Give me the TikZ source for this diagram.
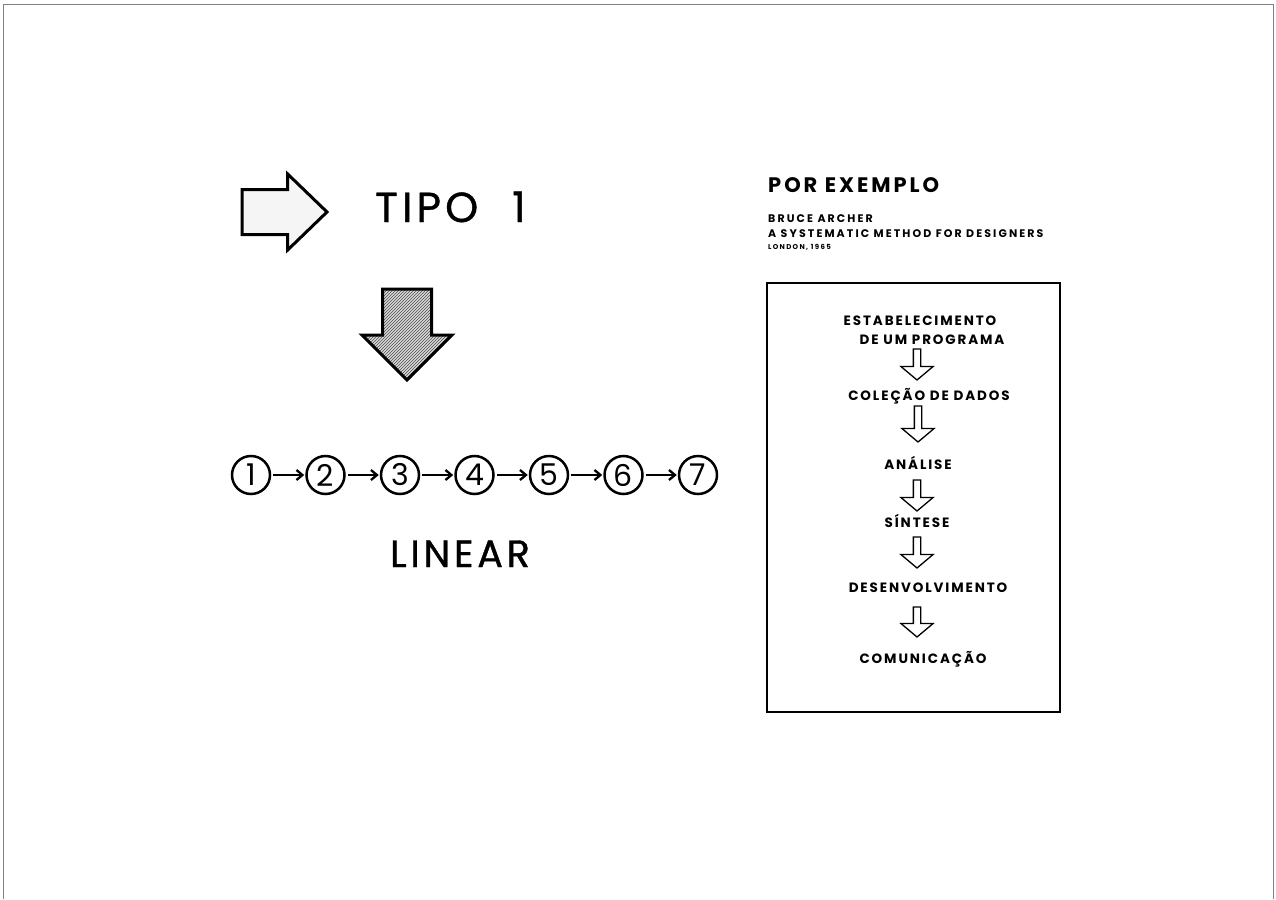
\documentclass[tikz,border=0pt]{standalone}
\usepackage{fontspec}
\setmainfont{Poppins}
\newfontfamily\titlefont[LetterSpace=10,FakeBold=1]{Poppins}
\newfontfamily\handfont[LetterSpace=14]{Poppins}
\newfontfamily\notefont[LetterSpace=19]{Poppins}
\usetikzlibrary{positioning,arrows.meta,shapes.arrows,patterns}

\begin{document}
\begin{tikzpicture}[x=1pt,y=-1pt,
  bigarrow/.style={single arrow, draw, line width=3pt, inner xsep=0pt, outer sep=0pt, anchor=tail},
  steparrow/.style={single arrow, draw, line width=1.3pt, fill=white, inner xsep=0pt, inner ysep=3pt,
    outer sep=0pt, single arrow head extend=12.5, single arrow tip angle=100, rotate=-90, anchor=tail},
  stepnum/.style={circle, draw, line width=2.5pt, minimum size=38pt, inner sep=0pt,
    font=\fontsize{30}{30}\selectfont},
  nextarrow/.style={-{Straight Barb[length=6pt,width=10pt]}, line width=2.3pt, shorten <=2pt, shorten >=1pt},
  boxlabel/.style={font=\handfont\bfseries\fontsize{13.5}{15}\selectfont, inner sep=0pt, anchor=base},
  notelabel/.style={font=\notefont\bfseries\fontsize{11}{12}\selectfont, inner sep=0pt, anchor=base west},
]
  \useasboundingbox (0,0) rectangle (1276,899);
  % page frame
  \draw[gray, line width=1pt] (3,899) -- (3,5) -- (1273,5) -- (1273,899);

  % left half: type 1
  \node[bigarrow, inner ysep=21pt, minimum height=85, single arrow head extend=15.5,
    single arrow tip angle=88, fill=gray!8] (pointer) at (242,212) {};
  \node[font=\titlefont\fontsize{42}{42}\selectfont, inner sep=0pt, anchor=base west] (tipo) at (375,222) {TIPO\hspace{34pt}1};
  \node[bigarrow, rotate=-90, inner ysep=23pt, minimum height=91, single arrow head extend=20.5,
    single arrow tip angle=90, preaction={fill=gray!30}, pattern=north east lines,
    pattern color=black!70] (down) at (407,289) {};

  % chain of steps
  \foreach \i in {1,...,7}
    \node[stepnum] (n\i) at ({251+74.5*(\i-1)},475) {\i};
  \foreach \i [remember=\i as \prev (initially 1)] in {2,...,7}
    \draw[nextarrow] (n\prev) -- (n\i);
  \node[font=\titlefont\fontsize{38}{38}\selectfont, inner sep=0pt, anchor=base] (linear) at (460,567) {LINEAR};

  % right half: example
  \node[font=\handfont\bfseries\fontsize{21}{22}\selectfont, inner sep=0pt, anchor=base west] (exemplo) at (768,192) {POR EXEMPLO};
  \node[notelabel] (author) at (768,222) {BRUCE ARCHER};
  \node[notelabel] (title) at (768,237) {A SYSTEMATIC METHOD FOR DESIGNERS};
  \node[notelabel, font=\notefont\bfseries\fontsize{7}{8}\selectfont] (place) at (768,249) {LONDON, 1965};

  \draw[line width=1.6pt] (767,283) rectangle (1060,712);
  \node[boxlabel] (s1a) at (920,325) {ESTABELECIMENTO};
  \node[boxlabel] (s1b) at (932,344) {DE UM PROGRAMA};
  \node[boxlabel] (s2) at (929,400) {COLEÇÃO DE DADOS};
  \node[boxlabel] (s3) at (918,469) {ANÁLISE};
  \node[boxlabel] (s4) at (917,527) {SÍNTESE};
  \node[boxlabel] (s5) at (928,592) {DESENVOLVIMENTO};
  \node[boxlabel] (s6) at (923,663) {COMUNICAÇÃO};

  \node[steparrow, minimum height=31] (a1) at (917,349) {};
  \node[steparrow, minimum height=36] (a2) at (918,406) {};
  \node[steparrow, minimum height=31] (a3) at (917,480) {};
  \node[steparrow, minimum height=31] (a4) at (917,537) {};
  \node[steparrow, minimum height=30] (a5) at (917,607) {};
\end{tikzpicture}
\end{document}
